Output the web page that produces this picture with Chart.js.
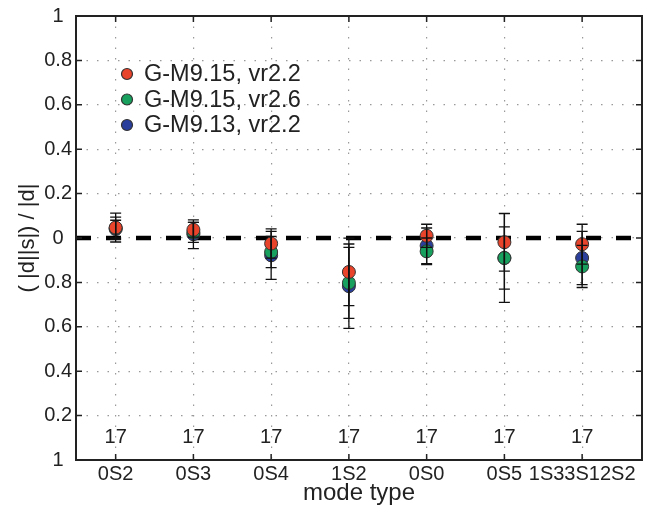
<!DOCTYPE html>
<html>
<head>
<meta charset="utf-8">
<script src="https://cdn.jsdelivr.net/npm/chart.js@4"></script>
<style>
  html, body { margin: 0; padding: 0; background: #fff; }
</style>
</head>
<body>
<canvas id="modeChart" width="652" height="517"></canvas>
<script>
// categories (mode types) and the per-mode count printed near the bottom
const modes = ['0S2', '0S3', '0S4', '1S2', '0S0', '0S5', '1S33S12S2']
const counts = [17, 17, 17, 17, 17, 17, 17]

// tick labels as printed on the y axis (top to bottom)
const yTickLabels = ['1', '0.8', '0.6', '0.4', '0.2', '0', '0.8', '0.6', '0.4', '0.2', '1']

// series: mean and error half-width per mode
const labels = ['G-M9.15, vr2.2', 'G-M9.15, vr2.6', 'G-M9.13, vr2.2']
const redMean = [0.047, 0.037, -0.025, -0.153, 0.010, -0.019, -0.028]
const redErr = [0.065, 0.033, 0.066, 0.152, 0.052, 0.130, 0.090]
const greenMean = [0.044, 0.025, -0.063, -0.202, -0.060, -0.090, -0.128]
const greenErr = [0.050, 0.045, 0.070, 0.160, 0.060, 0.200, 0.095]
const blueMean = [0.040, 0.017, -0.078, -0.217, -0.035, -0.090, -0.090]
const blueErr = [0.040, 0.065, 0.108, 0.190, 0.080, 0.140, 0.120]

const colors = ['#e8432b', '#17a05e', '#2a3f9c']
const font = '"Liberation Sans", Arial, sans-serif'

const toPoints = (means, errs) => means.map((m, i) => ({x: i + 1, y: m, err: errs[i]}))

// error bars, frame, inward ticks, counts and legend
const extras = {
    id: 'extras',
    afterDatasetsDraw(chart) {
        const ctx = chart.ctx
        const xs = chart.scales.x
        const ys = chart.scales.y
        const area = chart.chartArea

        ctx.save()
        ctx.strokeStyle = '#111'
        ctx.lineWidth = 1.3
        chart.data.datasets.forEach(ds => {
            if (!ds.isSeries) return
            ds.data.forEach(p => {
                const px = xs.getPixelForValue(p.x)
                const top = ys.getPixelForValue(p.y + p.err)
                const bot = ys.getPixelForValue(p.y - p.err)
                ctx.beginPath()
                ctx.moveTo(px, top); ctx.lineTo(px, bot)
                ctx.moveTo(px - 5.5, top); ctx.lineTo(px + 5.5, top)
                ctx.moveTo(px - 5.5, bot); ctx.lineTo(px + 5.5, bot)
                ctx.stroke()
            })
        })

        // frame
        ctx.lineWidth = 2
        ctx.strokeStyle = '#222'
        ctx.strokeRect(area.left, area.top, area.right - area.left, area.bottom - area.top)

        // inward tick marks
        ctx.lineWidth = 1.5
        ctx.beginPath()
        xs.ticks.forEach(t => {
            const px = xs.getPixelForValue(t.value)
            ctx.moveTo(px, area.bottom); ctx.lineTo(px, area.bottom - 6)
            ctx.moveTo(px, area.top); ctx.lineTo(px, area.top + 6)
        })
        ys.ticks.forEach(t => {
            const py = ys.getPixelForValue(t.value)
            ctx.moveTo(area.left, py); ctx.lineTo(area.left + 6, py)
            ctx.moveTo(area.right, py); ctx.lineTo(area.right - 6, py)
        })
        ctx.stroke()

        // counts
        ctx.fillStyle = '#222'
        ctx.font = '20px ' + font
        ctx.textAlign = 'center'
        ctx.textBaseline = 'middle'
        counts.forEach((c, i) => {
            ctx.fillText(String(c), xs.getPixelForValue(i + 1), ys.getPixelForValue(-0.9))
        })

        // legend
        ctx.font = '23.5px ' + font
        ctx.textAlign = 'left'
        const series = chart.data.datasets.filter(d => d.isSeries).slice().reverse()
        series.forEach((ds, i) => {
            const ly = area.top + 58 + i * 25.5
            const lx = area.left + 51
            ctx.beginPath()
            ctx.arc(lx, ly, 5.5, 0, Math.PI * 2)
            ctx.fillStyle = ds.backgroundColor
            ctx.fill()
            ctx.lineWidth = 1.2
            ctx.strokeStyle = '#333'
            ctx.stroke()
            ctx.fillStyle = '#222'
            ctx.fillText(ds.label, lx + 17, ly + 1)
        })
        ctx.restore()
    }
}

const seriesSet = (label, means, errs, color, order) => ({
    type: 'scatter',
    label: label,
    data: toPoints(means, errs),
    backgroundColor: color,
    borderColor: '#333',
    borderWidth: 1,
    pointRadius: 6.5,
    pointHoverRadius: 6.5,
    order: order,
    isSeries: true
})

const ctx = document.getElementById('modeChart').getContext('2d')
const myChart = new Chart(ctx, {
    type: 'scatter',
    data: {
        datasets: [
            seriesSet(labels[2], blueMean, blueErr, colors[2], 3),
            seriesSet(labels[1], greenMean, greenErr, colors[1], 2),
            seriesSet(labels[0], redMean, redErr, colors[0], 1),
            {
                type: 'line',
                label: 'zero',
                data: [{x: 0.49, y: 0}, {x: 7.77, y: 0}],
                borderColor: '#000',
                borderWidth: 4.5,
                borderDash: [15, 15],
                borderCapStyle: 'butt',
                pointRadius: 0,
                order: 4
            }
        ]
    },
    options: {
        responsive: false,
        animation: false,
        devicePixelRatio: 1,
        layout: {padding: {left: 0, right: 10, top: 13, bottom: 0}},
        plugins: {
            legend: {display: false},
            tooltip: {enabled: false}
        },
        scales: {
            x: {
                type: 'linear',
                min: 0.49,
                max: 7.77,
                afterBuildTicks: s => { s.ticks = modes.map((m, i) => ({value: i + 1})) },
                afterFit: s => { s.height = 57 },
                grid: {color: '#999', lineWidth: 1.2, drawTicks: false},
                border: {display: false, dash: [1.5, 9]},
                ticks: {
                    autoSkip: false,
                    maxRotation: 0,
                    padding: 2,
                    color: '#222',
                    font: {family: font, size: 20},
                    callback: v => modes[Math.round(v) - 1] || ''
                },
                title: {
                    display: true,
                    text: 'mode type',
                    color: '#222',
                    font: {family: font, size: 24},
                    padding: {top: 0, bottom: 9}
                }
            },
            y: {
                min: -1,
                max: 1,
                afterBuildTicks: s => { s.ticks = yTickLabels.map((l, i) => ({value: 1 - i * 0.2})) },
                afterFit: s => { s.width = 76 },
                grid: {color: '#999', lineWidth: 1.2, drawTicks: false},
                border: {display: false, dash: [1.5, 9]},
                ticks: {
                    padding: 4,
                    crossAlign: 'center',
                    color: '#222',
                    font: {family: font, size: 20},
                    callback: v => yTickLabels[Math.round((1 - v) / 0.2)]
                },
                title: {
                    display: true,
                    text: '( |d||s|) / |d|',
                    color: '#222',
                    font: {family: font, size: 22},
                    padding: {top: 15, bottom: 0}
                }
            }
        }
    },
    plugins: [extras]
})
</script>
</body>
</html>
